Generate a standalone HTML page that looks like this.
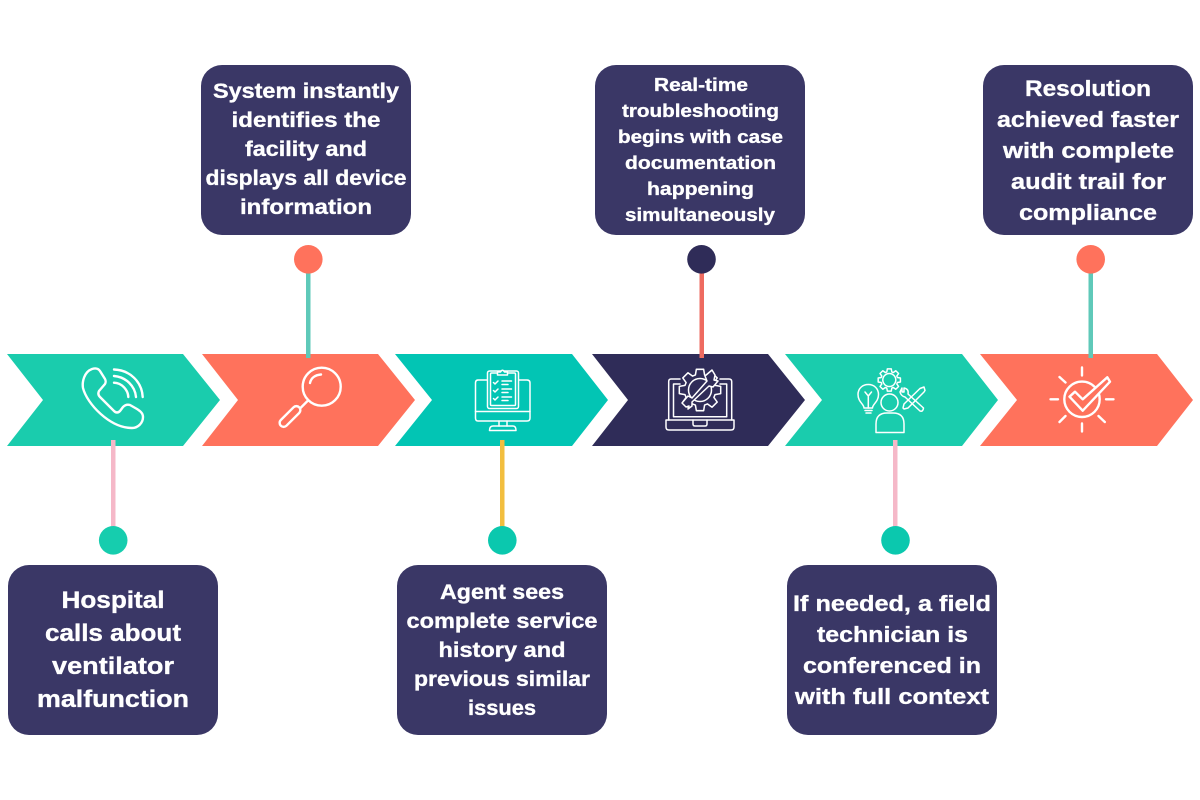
<!DOCTYPE html>
<html>
<head>
<meta charset="utf-8">
<style>
html,body{margin:0;padding:0;background:#fff;width:1200px;height:800px;overflow:hidden}
svg{display:block}
text{font-family:"Liberation Sans",sans-serif;font-weight:700;fill:#fff;stroke:#fff;stroke-width:.35px;text-anchor:middle}
.i{fill:none;stroke:#fff;stroke-width:2.400;stroke-linecap:round;stroke-linejoin:round}
.t{stroke-width:1.500}
</style>
</head>
<body>
<svg width="1200" height="800" viewBox="0 0 1200 800" xmlns="http://www.w3.org/2000/svg">
<defs>
<path id="gear" d="M7.17-2.19 9.85-1.74 9.85 1.74 7.17 2.19 6.62 3.52 8.19 5.74 5.74 8.19 3.52 6.62 2.19 7.17 1.74 9.85-1.74 9.85-2.19 7.17-3.52 6.62-5.74 8.19-8.19 5.74-6.62 3.52-7.17 2.19-9.85 1.74-9.85-1.74-7.17-2.19-6.62-3.52-8.19-5.74-5.74-8.19-3.52-6.62-2.19-7.17-1.74-9.85 1.74-9.85 2.19-7.17 3.52-6.62 5.74-8.19 8.19-5.74 6.62-3.52Z"/>
</defs>
<rect width="1200" height="800" fill="#fff"/>

<!-- chevrons -->
<polygon points="7,354 183,354 220,400 183,446 7,446 43,400" fill="#1ACCAD"/>
<polygon points="202,354 378,354 415,400 378,446 202,446 238,400" fill="#FF725C"/>
<polygon points="395,354 572,354 608,400 572,446 395,446 432,400" fill="#02C5B4"/>
<polygon points="592,354 768,354 805,400 768,446 592,446 628,400" fill="#2F2C58"/>
<polygon points="785,354 962,354 998,400 962,446 785,446 822,400" fill="#1ACCAD"/>
<polygon points="980,354 1157,354 1193,400 1157,446 980,446 1017,400" fill="#FF725C"/>

<!-- connectors -->
<rect x="111" y="440" width="4.500" height="90" fill="#F5B8C8"/>
<rect x="306" y="270" width="4.500" height="88" fill="#5FC9B9"/>
<rect x="500" y="440" width="4.500" height="90" fill="#F2BE3E"/>
<rect x="699.500" y="270" width="4.500" height="88" fill="#EE6B60"/>
<rect x="893" y="440" width="4.500" height="90" fill="#F5B8C8"/>
<rect x="1088.500" y="270" width="4.500" height="88" fill="#5FC9B9"/>

<!-- dots -->
<circle cx="113.200" cy="540.300" r="14.300" fill="#16CDAE"/>
<circle cx="308.300" cy="259.300" r="14.300" fill="#FF725C"/>
<circle cx="502.300" cy="540.300" r="14.300" fill="#0BC8AE"/>
<circle cx="701.500" cy="259.300" r="14.300" fill="#2F2C58"/>
<circle cx="895.500" cy="540.300" r="14.300" fill="#0BC8AE"/>
<circle cx="1090.700" cy="259.300" r="14.300" fill="#FF725C"/>

<!-- boxes -->
<g fill="#3A3766">
<rect x="8" y="565" width="210" height="170" rx="21"/>
<rect x="201" y="65" width="210" height="170" rx="21"/>
<rect x="397" y="565" width="210" height="170" rx="21"/>
<rect x="595" y="65" width="210" height="170" rx="21"/>
<rect x="787" y="565" width="210" height="170" rx="21"/>
<rect x="983" y="65" width="210" height="170" rx="21"/>
</g>

<!-- text -->
<g font-size="24">
<text x="113" y="608" textLength="103" lengthAdjust="spacingAndGlyphs">Hospital</text>
<text x="113" y="641" textLength="136" lengthAdjust="spacingAndGlyphs">calls about</text>
<text x="113" y="674" textLength="122" lengthAdjust="spacingAndGlyphs">ventilator</text>
<text x="113" y="707" textLength="152" lengthAdjust="spacingAndGlyphs">malfunction</text>
</g>
<g font-size="21">
<text x="306" y="98" textLength="186" lengthAdjust="spacingAndGlyphs">System instantly</text>
<text x="306" y="127" textLength="149" lengthAdjust="spacingAndGlyphs">identifies the</text>
<text x="306" y="156" textLength="122" lengthAdjust="spacingAndGlyphs">facility and</text>
<text x="306" y="185" textLength="201" lengthAdjust="spacingAndGlyphs">displays all device</text>
<text x="306" y="214" textLength="132" lengthAdjust="spacingAndGlyphs">information</text>
</g>
<g font-size="21">
<text x="502" y="599" textLength="124" lengthAdjust="spacingAndGlyphs">Agent sees</text>
<text x="502" y="628" textLength="191" lengthAdjust="spacingAndGlyphs">complete service</text>
<text x="502" y="657" textLength="127" lengthAdjust="spacingAndGlyphs">history and</text>
<text x="502" y="686" textLength="176" lengthAdjust="spacingAndGlyphs">previous similar</text>
<text x="502" y="715" textLength="68" lengthAdjust="spacingAndGlyphs">issues</text>
</g>
<g font-size="18.5">
<text x="701" y="91" textLength="94" lengthAdjust="spacingAndGlyphs">Real-time</text>
<text x="700.5" y="117" textLength="157" lengthAdjust="spacingAndGlyphs">troubleshooting</text>
<text x="700.5" y="143" textLength="165" lengthAdjust="spacingAndGlyphs">begins with case</text>
<text x="700.5" y="169" textLength="151" lengthAdjust="spacingAndGlyphs">documentation</text>
<text x="700.5" y="195" textLength="107" lengthAdjust="spacingAndGlyphs">happening</text>
<text x="700" y="221" textLength="150" lengthAdjust="spacingAndGlyphs">simultaneously</text>
</g>
<g font-size="22">
<text x="892" y="611" textLength="198" lengthAdjust="spacingAndGlyphs">If needed, a field</text>
<text x="892.5" y="642" textLength="151" lengthAdjust="spacingAndGlyphs">technician is</text>
<text x="892" y="673" textLength="178" lengthAdjust="spacingAndGlyphs">conferenced in</text>
<text x="892" y="704" textLength="194" lengthAdjust="spacingAndGlyphs">with full context</text>
</g>
<g font-size="22.5">
<text x="1088" y="96" textLength="126" lengthAdjust="spacingAndGlyphs">Resolution</text>
<text x="1088" y="127" textLength="182" lengthAdjust="spacingAndGlyphs">achieved faster</text>
<text x="1088.5" y="158" textLength="171" lengthAdjust="spacingAndGlyphs">with complete</text>
<text x="1088.5" y="189" textLength="155" lengthAdjust="spacingAndGlyphs">audit trail for</text>
<text x="1088" y="220" textLength="138" lengthAdjust="spacingAndGlyphs">compliance</text>
</g>

<!-- phone icon -->
<g class="i">
<path d="M92 369C84 372 82 382 83 388C87 404 110 428 132 428C138 428 143 423 143 417C143 413 140 411 137 409L130 405C127 404 125 405 123 407L120 411C118 413 116 413 114 411L100 397C98 395 98 393 99 391L105 384C106 382 106 381 105 379L100 371C98 368 95 368 92 369Z"/>
<path d="M114 369.500C130 370 142 382 142.700 397"/>
<path d="M114 376C126 377 135 386 136 397"/>
<path d="M114 382.700C122 383 128 390 128.300 397"/>
</g>

<!-- magnifier icon -->
<g class="i">
<circle cx="321.700" cy="386.700" r="19"/>
<path d="M310 383C311 378 315 375 321 374.500"/>
<path d="M307.500 401L300 408.500"/>
<rect x="277" y="412.500" width="26" height="8" rx="4" transform="rotate(-45 290 416.500)"/>
</g>

<!-- monitor clipboard icon -->
<g class="i t">
<path d="M487 380H478Q475.500 380 475.500 383V418Q475.500 421 478 421H527Q530 421 530 418V383Q530 380 527 380H519"/>
<path d="M475.500 411.500H530"/>
<path d="M499 421V426M507 421V426"/>
<path d="M493 426H513Q516 426 516 430.500H489.500Q489.500 426 493 426Z"/>
<rect x="487.500" y="371" width="31" height="37.500" rx="2" fill="#02C5B4"/>
<rect x="490.500" y="373" width="25" height="32.500" rx="1"/>
<path d="M497.500 375V372H500.500Q502.500 368.500 504.500 372H507.500V375Z" fill="#02C5B4"/>
<path d="M493.500 382.500L495 384L498 381M493.500 390.500L495 392L498 389M493.500 398.500L495 400L498 397"/>
<path d="M502 381H511.500M502 384.500H508M502 389H511.500M502 392.500H508M502 397H511.500M502 400.500H508"/>
</g>

<!-- laptop gear icon -->
<g class="i t">
<path d="M680 379H671Q668.700 379 668.700 381.500V420M720 379H729Q731.700 379 731.700 381.500V420"/>
<path d="M680 384H673.500V416.700H726.700V384H720"/>
<path d="M666 420H734V427Q734 430 731 430H669Q666 430 666 427Z"/>
<path d="M693 420V424Q693 426 695 426H705Q707 426 707 424V420"/>
<use href="#gear" transform="translate(700 390) scale(2.100)" fill="#2F2C58" stroke="#fff" stroke-width=".72"/>
<circle cx="700" cy="390" r="11.500" fill="#2F2C58"/>
<path d="M712 370L705 376L707 381L692 398L688 396L682 403L686 407L689 406L688 409L692 406L692 402L709 386L713 387L718 381L714 380L715 375Z" fill="#2F2C58"/>
</g>

<!-- team tools icon -->
<g class="i t">
<path d="M864 408C864 404 858 402 858 394.500C858 388.500 862.500 384.500 868.300 384.500C874 384.500 878.500 388.500 878.500 394.500C878.500 402 872.500 404 872.500 408Z"/>
<path d="M868.300 408V396M865 392L868.300 396L871.500 392M865 410.500H872M866 413H871"/>
<use href="#gear" transform="translate(889.300 380) scale(1.130)" stroke="#fff" fill="none" stroke-width="1.300"/>
<circle cx="889.300" cy="380" r="6.500"/>
<circle cx="889.500" cy="402.500" r="8.500"/>
<path d="M876 432.500H904V424Q904 413 893 413H887Q876 413 876 424Z"/>
<path d="M903 408L904 404L920 388.500L924 387L925 390.500L924 392L908 408L904 409Z"/>
<path d="M902 388L900 392Q901 396 905 397L920 411Q923 412 923.500 408L908 394Q909 389 904 388L904 392L902 392Z"/>
</g>

<!-- check icon -->
<g class="i">
<circle cx="1082" cy="399.300" r="17.700"/>
<path d="M1082 367.500V375.500M1082 423.500V431.500M1050.500 399.300H1058M1106 399.300H1113.500M1059.500 377L1065.500 382.500M1065.500 416L1059.500 422M1098.500 416L1104.800 422"/>
<path d="M1069.500 396.700L1075 391.700L1082.700 399.300L1107.300 377.300L1110 381.700L1082.700 410.700Z" fill="#FF725C"/>
</g>
</svg>
</body>
</html>
